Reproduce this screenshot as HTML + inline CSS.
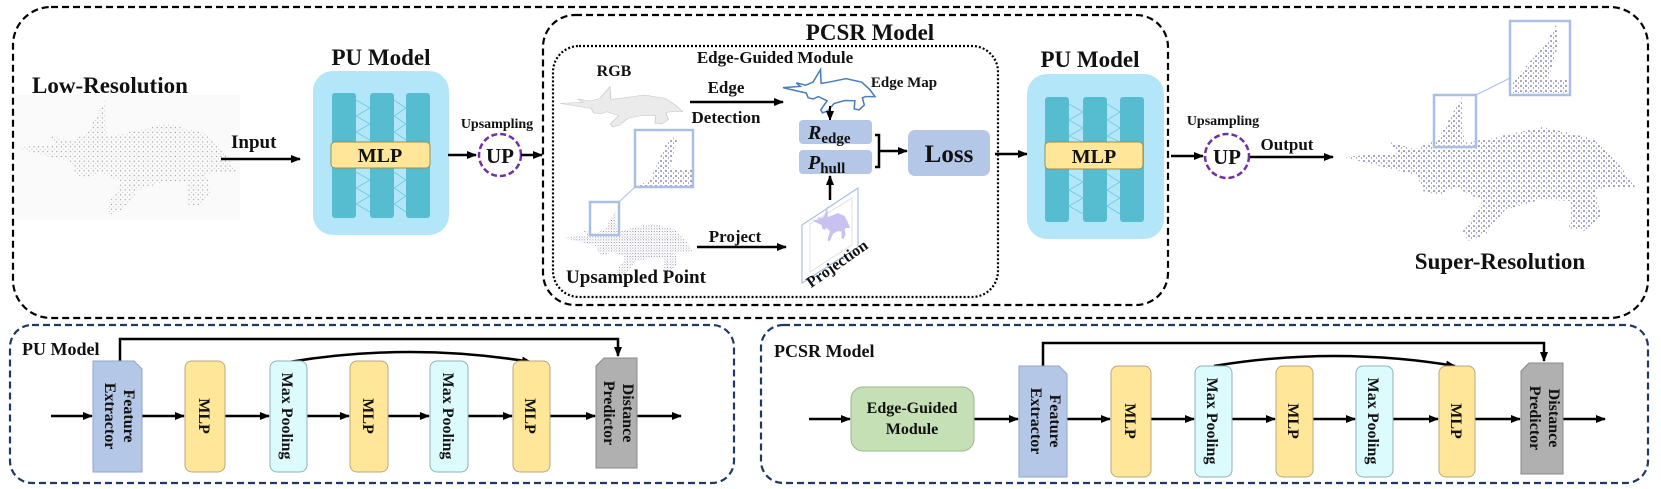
<!DOCTYPE html>
<html><head><meta charset="utf-8"><style>
html,body{margin:0;padding:0;background:#fff}
svg{display:block}
text{font-family:"Liberation Serif",serif;font-weight:bold;fill:#111}
</style></head><body>
<svg width="1661" height="489" viewBox="0 0 1661 489" xmlns="http://www.w3.org/2000/svg">
<defs>
<marker id="ah" markerWidth="10" markerHeight="8" refX="9" refY="4" orient="auto" markerUnits="userSpaceOnUse"><path d="M0,0 L10,4 L0,8 Z" fill="#000"/></marker>
<pattern id="dotsB" width="5" height="5" patternUnits="userSpaceOnUse"><circle cx="1" cy="1" r="0.8" fill="#3a3a7a"/><circle cx="3.5" cy="3" r="0.6" fill="#6a6aa0"/></pattern>
<pattern id="dotsG" width="6" height="6" patternUnits="userSpaceOnUse"><circle cx="1" cy="1" r="0.7" fill="#777"/><circle cx="4" cy="4" r="0.5" fill="#999"/></pattern>
<pattern id="dotsU" width="6" height="6" patternUnits="userSpaceOnUse"><circle cx="1" cy="1" r="0.9" fill="#3a3a7a"/><circle cx="4" cy="3.5" r="0.6" fill="#777"/></pattern>
<path id="dino" d="M0,62 L55,58 L42,46 L72,54 L95,44 L119,2 L121,48 L145,44 L200,32 L250,44 L275,68 L292,92 L262,92 L252,96 L258,120 L242,136 L226,133 L228,106 L196,105 L162,115 L142,140 L125,146 L120,136 L140,106 L112,92 L96,100 L80,96 L74,80 L40,72 Z"/>
</defs>

<rect x="13" y="7" width="1635" height="311" rx="38" fill="none" stroke="#000" stroke-width="2.2" stroke-dasharray="7,4"/>
<rect x="543" y="15" width="625" height="290" rx="32" fill="none" stroke="#000" stroke-width="2.2" stroke-dasharray="7,4"/>
<rect x="553" y="46" width="445" height="251" rx="26" fill="none" stroke="#000" stroke-width="2.2" stroke-dasharray="2,2"/>

<rect x="15" y="95" width="225" height="125" fill="#fafafa"/>
<text x="32" y="93" font-size="23">Low-Resolution</text>
<use href="#dino" transform="translate(15,98) scale(0.76,0.8)" fill="url(#dotsG)"/>
<text x="231" y="148" font-size="19">Input</text>
<line x1="221" y1="159" x2="300" y2="159" stroke="#000" stroke-width="2.5" marker-end="url(#ah)"/>

<text x="381" y="65" font-size="23" text-anchor="middle">PU  Model</text>
<rect x="313" y="71" width="136" height="164" rx="20" fill="#b3e6f8"/>
<g fill="#56bdd0">
<rect x="332" y="93" width="24" height="125" rx="3"/><rect x="370" y="93" width="24" height="125" rx="3"/><rect x="406" y="93" width="24" height="125" rx="3"/>
</g>
<g stroke="#6cc9dc" stroke-width="0.8" fill="none">
<path d="M356,100 L370,108 L356,116 L370,124 L356,132 L370,140"/><path d="M394,100 L406,108 L394,116 L406,124 L394,132 L406,140"/>
<path d="M356,172 L370,180 L356,188 L370,196 L356,204 L370,212"/><path d="M394,172 L406,180 L394,188 L406,196 L394,204 L406,212"/>
</g>
<rect x="331" y="142" width="99" height="26" rx="4" fill="#ffe699" stroke="#a08c4a" stroke-width="1"/>
<text x="380" y="162" font-size="20" text-anchor="middle">MLP</text>
<line x1="448" y1="155" x2="476" y2="155" stroke="#000" stroke-width="2.5" marker-end="url(#ah)"/>
<text x="497" y="128" font-size="14" text-anchor="middle">Upsampling</text>
<circle cx="500" cy="155" r="21" fill="none" stroke="#7030a0" stroke-width="2.5" stroke-dasharray="6,3"/>
<text x="500" y="163" font-size="21" text-anchor="middle">UP</text>
<line x1="521" y1="155" x2="542" y2="155" stroke="#000" stroke-width="2.5" marker-end="url(#ah)"/>

<text x="870" y="40" font-size="23" text-anchor="middle">PCSR  Model</text>
<text x="775" y="63" font-size="17" text-anchor="middle">Edge-Guided Module</text>
<text x="614" y="76" font-size="16" text-anchor="middle">RGB</text>
<use href="#dino" transform="translate(560,86) scale(0.42,0.28)" fill="#ebebeb" stroke="#c8c8c8" stroke-width="2"/>
<text x="726" y="93" font-size="17" text-anchor="middle">Edge</text>
<text x="726" y="123" font-size="17" text-anchor="middle">Detection</text>
<line x1="690" y1="102" x2="783" y2="102" stroke="#000" stroke-width="2.5" marker-end="url(#ah)"/>
<use href="#dino" transform="translate(783,69) scale(0.315,0.3)" fill="none" stroke="#4a7ebb" stroke-width="5"/>
<text x="904" y="87" font-size="15" text-anchor="middle">Edge Map</text>
<line x1="830" y1="106" x2="830" y2="120" stroke="#000" stroke-width="2" marker-end="url(#ah)"/>
<rect x="799" y="120" width="73" height="24" rx="4" fill="#b4c7e7"/>
<rect x="799" y="150" width="73" height="24" rx="4" fill="#b4c7e7"/>
<text x="808" y="139" font-size="20"><tspan font-style="italic">R</tspan><tspan font-size="15" dy="4">edge</tspan></text>
<text x="808" y="169" font-size="20"><tspan font-style="italic">P</tspan><tspan font-size="15" dy="4">hull</tspan></text>
<line x1="830" y1="200" x2="830" y2="176" stroke="#000" stroke-width="2.5" marker-end="url(#ah)"/>
<path d="M875,135 L879,135 L879,167 L875,167" fill="none" stroke="#000" stroke-width="2.5"/>
<line x1="879" y1="151" x2="907" y2="151" stroke="#000" stroke-width="2.5" marker-end="url(#ah)"/>
<rect x="908" y="130" width="82" height="46" rx="7" fill="#b4c7e7"/>
<text x="949" y="162" font-size="25" text-anchor="middle">Loss</text>
<line x1="995" y1="154" x2="1027" y2="154" stroke="#000" stroke-width="2.5" marker-end="url(#ah)"/>

<use href="#dino" transform="translate(563,209) scale(0.445,0.46)" fill="url(#dotsU)"/>
<rect x="590" y="202" width="29" height="33" fill="none" stroke="#a9bfe6" stroke-width="2.5"/>
<line x1="619" y1="202" x2="635" y2="187" stroke="#a9bfe6" stroke-width="1"/>
<rect x="635" y="130" width="58" height="57" fill="#fff" stroke="#a9bfe6" stroke-width="2.5"/>
<path d="M650,180 L668,140 L678,136 L670,168 L692,170 L692,186 L637,186 Z" fill="url(#dotsB)"/>
<text x="636" y="283" font-size="19" text-anchor="middle">Upsampled Point</text>
<text x="735" y="242" font-size="17" text-anchor="middle">Project</text>
<line x1="697" y1="247" x2="786" y2="247" stroke="#000" stroke-width="2.5" marker-end="url(#ah)"/>
<path d="M802,225 L858,188 L858,247 L802,283 Z" fill="#fff" stroke="#a9bfe6" stroke-width="1.2"/>
<path d="M810,224 L852,198 L852,245 L810,272 Z" fill="none" stroke="#ddd" stroke-width="0.8"/>
<use href="#dino" transform="translate(812,205) scale(0.13,0.25)" fill="#c9c2f0"/>
<text transform="translate(840,268) rotate(-35)" font-size="16" text-anchor="middle">Projection</text>

<text x="1090" y="67" font-size="23" text-anchor="middle">PU  Model</text>
<rect x="1027" y="74" width="137" height="165" rx="20" fill="#b3e6f8"/>
<g fill="#56bdd0">
<rect x="1045" y="97" width="24" height="125" rx="3"/><rect x="1083" y="97" width="24" height="125" rx="3"/><rect x="1120" y="97" width="24" height="125" rx="3"/>
</g>
<g stroke="#6cc9dc" stroke-width="0.8" fill="none">
<path d="M1069,104 L1083,112 L1069,120 L1083,128 L1069,136 L1083,142"/><path d="M1107,104 L1120,112 L1107,120 L1120,128 L1107,136 L1120,142"/>
<path d="M1069,174 L1083,182 L1069,190 L1083,198 L1069,206 L1083,214"/><path d="M1107,174 L1120,182 L1107,190 L1120,198 L1107,206 L1120,214"/>
</g>
<rect x="1045" y="142" width="98" height="27" rx="4" fill="#ffe699" stroke="#a08c4a" stroke-width="1"/>
<text x="1094" y="163" font-size="20" text-anchor="middle">MLP</text>
<text x="1223" y="125" font-size="14" text-anchor="middle">Upsampling</text>
<line x1="1171" y1="156" x2="1203" y2="156" stroke="#000" stroke-width="2.5" marker-end="url(#ah)"/>
<circle cx="1227" cy="156" r="22" fill="none" stroke="#7030a0" stroke-width="2.5" stroke-dasharray="6,3"/>
<text x="1227" y="164" font-size="21" text-anchor="middle">UP</text>
<text x="1287" y="150" font-size="17" text-anchor="middle">Output</text>
<line x1="1250" y1="157" x2="1333" y2="157" stroke="#000" stroke-width="2.5" marker-end="url(#ah)"/>

<use href="#dino" transform="translate(1343,95)" fill="url(#dotsB)"/>
<rect x="1434" y="95" width="42" height="52" fill="none" stroke="#a9bfe6" stroke-width="2.5"/>
<line x1="1476" y1="95" x2="1510" y2="78" stroke="#a9bfe6" stroke-width="1"/>
<rect x="1510" y="21" width="60" height="74" fill="#fff" stroke="#a9bfe6" stroke-width="2.5"/>
<path d="M1512,82 L1545,45 L1556,25 L1558,45 L1548,80 L1568,78 L1568,93 L1512,93 Z" fill="url(#dotsB)"/>
<text x="1500" y="269" font-size="23" text-anchor="middle">Super-Resolution</text>

<rect x="10" y="325" width="724" height="158" rx="22" fill="none" stroke="#1f3864" stroke-width="2.2" stroke-dasharray="7,4"/>
<text x="22" y="355" font-size="18">PU  Model</text>
<g stroke="#000" stroke-width="2.5" fill="none">
<path d="M120,361 L120,339 L618,339 L618,356" marker-end="url(#ah)"/>
<path d="M289,362 Q410,342 531,362" marker-end="url(#ah)"/>
<line x1="51" y1="416" x2="92" y2="416" marker-end="url(#ah)"/>
<line x1="142" y1="416" x2="184" y2="416" marker-end="url(#ah)"/>
<line x1="225" y1="416" x2="269" y2="416" marker-end="url(#ah)"/>
<line x1="307" y1="416" x2="349" y2="416" marker-end="url(#ah)"/>
<line x1="388" y1="416" x2="429" y2="416" marker-end="url(#ah)"/>
<line x1="468" y1="416" x2="512" y2="416" marker-end="url(#ah)"/>
<line x1="550" y1="416" x2="595" y2="416" marker-end="url(#ah)"/>
<line x1="637" y1="416" x2="681" y2="416" marker-end="url(#ah)"/>
</g>
<path d="M93,361 L134,361 L142,369 L142,472 L93,472 Z" fill="#b4c7e7" stroke="#8fa5cc"/>
<rect x="185" y="361" width="40" height="111" rx="7" fill="#ffe699" stroke="#b8a878"/>
<rect x="270" y="361" width="37" height="111" rx="7" fill="#dcfbfd" stroke="#8fb0b8"/>
<rect x="350" y="361" width="38" height="111" rx="7" fill="#ffe699" stroke="#b8a878"/>
<rect x="430" y="361" width="38" height="111" rx="7" fill="#dcfbfd" stroke="#8fb0b8"/>
<rect x="513" y="361" width="37" height="111" rx="7" fill="#ffe699" stroke="#b8a878"/>
<path d="M604,358 L637,358 L637,468 L596,468 L596,366 Z" fill="#b0b0b0" stroke="#888"/>
<g font-size="16" text-anchor="middle">
<text transform="translate(117,416) rotate(90)"><tspan x="0" y="-7">Feature</tspan><tspan x="0" y="12">Extractor</tspan></text>
<text transform="translate(205,416) rotate(90)" y="6">MLP</text>
<text transform="translate(288,416) rotate(90)" y="6">Max Pooling</text>
<text transform="translate(369,416) rotate(90)" y="6">MLP</text>
<text transform="translate(449,416) rotate(90)" y="6">Max Pooling</text>
<text transform="translate(531,416) rotate(90)" y="6">MLP</text>
<text transform="translate(616,413) rotate(90)"><tspan x="0" y="-7">Distance</tspan><tspan x="0" y="12">Predictor</tspan></text>
</g>

<rect x="761" y="325" width="887" height="158" rx="22" fill="none" stroke="#1f3864" stroke-width="2.2" stroke-dasharray="7,4"/>
<text x="774" y="357" font-size="18">PCSR Model</text>
<g stroke="#000" stroke-width="2.5" fill="none">
<path d="M1043,366 L1043,343 L1544,343 L1544,361" marker-end="url(#ah)"/>
<path d="M1214,366 Q1335,346 1455,366" marker-end="url(#ah)"/>
<line x1="809" y1="419" x2="850" y2="419" marker-end="url(#ah)"/>
<line x1="974" y1="419" x2="1018" y2="419" marker-end="url(#ah)"/>
<line x1="1067" y1="419" x2="1110" y2="419" marker-end="url(#ah)"/>
<line x1="1151" y1="419" x2="1194" y2="419" marker-end="url(#ah)"/>
<line x1="1232" y1="419" x2="1275" y2="419" marker-end="url(#ah)"/>
<line x1="1313" y1="419" x2="1355" y2="419" marker-end="url(#ah)"/>
<line x1="1393" y1="419" x2="1438" y2="419" marker-end="url(#ah)"/>
<line x1="1475" y1="419" x2="1520" y2="419" marker-end="url(#ah)"/>
<line x1="1563" y1="419" x2="1605" y2="419" marker-end="url(#ah)"/>
</g>
<rect x="851" y="387" width="123" height="64" rx="12" fill="#c5e0b4" stroke="#9ab88a"/>
<text x="912" y="413" font-size="16" text-anchor="middle">Edge-Guided</text>
<text x="912" y="434" font-size="16" text-anchor="middle">Module</text>
<path d="M1019,366 L1059,366 L1067,374 L1067,477 L1019,477 Z" fill="#b4c7e7" stroke="#8fa5cc"/>
<rect x="1111" y="366" width="40" height="111" rx="7" fill="#ffe699" stroke="#b8a878"/>
<rect x="1195" y="366" width="37" height="111" rx="7" fill="#dcfbfd" stroke="#8fb0b8"/>
<rect x="1276" y="366" width="37" height="111" rx="7" fill="#ffe699" stroke="#b8a878"/>
<rect x="1356" y="366" width="37" height="111" rx="7" fill="#dcfbfd" stroke="#8fb0b8"/>
<rect x="1439" y="366" width="36" height="111" rx="7" fill="#ffe699" stroke="#b8a878"/>
<path d="M1529,363 L1563,363 L1563,474 L1521,474 L1521,371 Z" fill="#b0b0b0" stroke="#888"/>
<g font-size="16" text-anchor="middle">
<text transform="translate(1043,421) rotate(90)"><tspan x="0" y="-7">Feature</tspan><tspan x="0" y="12">Extractor</tspan></text>
<text transform="translate(1131,421) rotate(90)" y="6">MLP</text>
<text transform="translate(1213,421) rotate(90)" y="6">Max Pooling</text>
<text transform="translate(1294,421) rotate(90)" y="6">MLP</text>
<text transform="translate(1374,421) rotate(90)" y="6">Max Pooling</text>
<text transform="translate(1457,421) rotate(90)" y="6">MLP</text>
<text transform="translate(1542,418) rotate(90)"><tspan x="0" y="-7">Distance</tspan><tspan x="0" y="12">Predictor</tspan></text>
</g>
</svg>
</body></html>
